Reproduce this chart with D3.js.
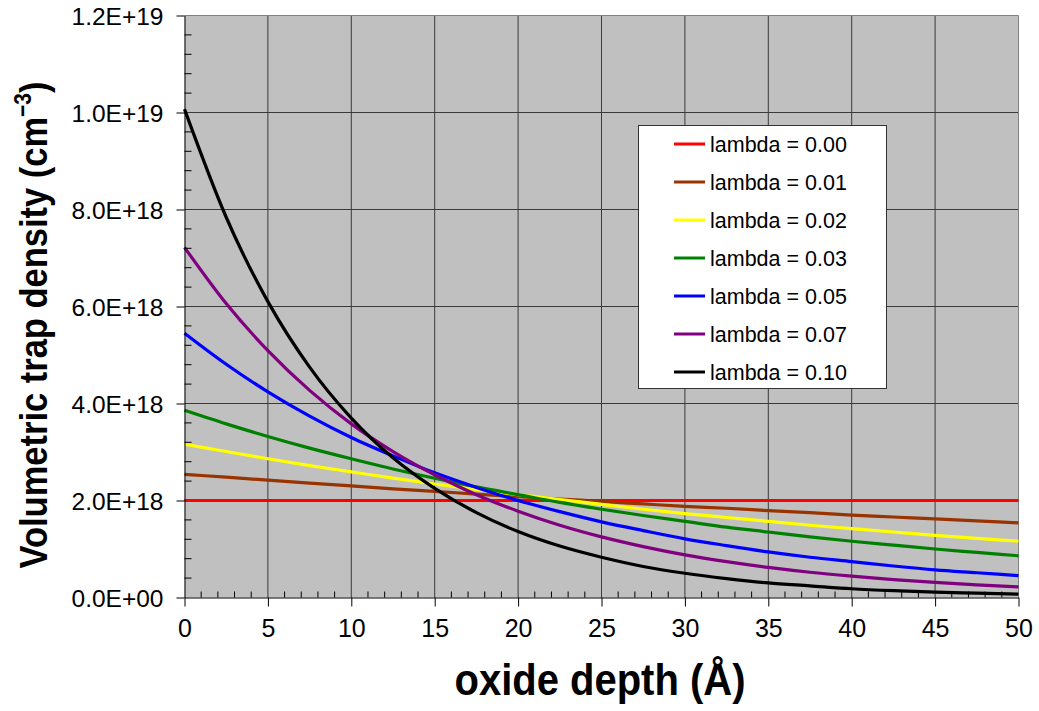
<!DOCTYPE html>
<html><head><meta charset="utf-8">
<script src="https://cdn.jsdelivr.net/npm/d3@7"></script>
<style>body{margin:0;background:#fff;}svg{display:block;font-family:"Liberation Sans",Arial,sans-serif;}</style>
</head><body>
<svg id="chart" width="1039" height="711"></svg>
<script>
// ---- data ----
const depth = [0,2.5,5,7.5,10,12.5,15,17.5,20,22.5,25,27.5,30,32.5,35,37.5,40,42.5,45,47.5,50];
const seriesNames = ["lambda = 0.00","lambda = 0.01","lambda = 0.02","lambda = 0.03","lambda = 0.05","lambda = 0.07","lambda = 0.10"];
const seriesColors = ["#FF0000","#993300","#FFFF00","#008000","#0000FF","#800080","#000000"];
// values in units of 1E18 cm^-3
const lam000 = [2.00,2.00,2.00,2.00,2.00,2.00,2.00,2.00,2.00,2.00,2.00,2.00,2.00,2.00,2.00,2.00,2.00,2.00,2.00,2.00,2.00];
const lam001 = [2.54,2.48,2.42,2.36,2.30,2.24,2.19,2.13,2.08,2.03,1.98,1.93,1.88,1.84,1.79,1.75,1.70,1.66,1.62,1.58,1.54];
const lam002 = [3.16,3.01,2.86,2.72,2.59,2.46,2.34,2.23,2.12,2.02,1.92,1.82,1.73,1.65,1.57,1.49,1.42,1.35,1.28,1.22,1.16];
const lam003 = [3.86,3.58,3.32,3.08,2.86,2.65,2.46,2.28,2.12,1.96,1.82,1.69,1.57,1.45,1.35,1.25,1.16,1.08,1.00,0.93,0.86];
const lam005 = [5.45,4.81,4.24,3.74,3.30,2.92,2.57,2.27,2.00,1.77,1.56,1.38,1.21,1.07,0.94,0.83,0.74,0.65,0.57,0.51,0.45];
const lam007 = [7.22,6.06,5.09,4.27,3.58,3.01,2.53,2.12,1.78,1.49,1.25,1.05,0.88,0.74,0.62,0.52,0.44,0.37,0.31,0.26,0.22];
const lam010 = [10.07,7.84,6.10,4.75,3.70,2.88,2.25,1.75,1.36,1.06,0.83,0.64,0.50,0.39,0.30,0.24,0.18,0.14,0.11,0.09,0.07];
const seriesValues = [lam000,lam001,lam002,lam003,lam005,lam007,lam010];
const xTicks = [0,5,10,15,20,25,30,35,40,45,50];
const yTicks = [0,2,4,6,8,10,12];
const yTickLabels = ["0.0E+00","2.0E+18","4.0E+18","6.0E+18","8.0E+18","1.0E+19","1.2E+19"];
const xTitle = "oxide depth (Å)";
const yTitle = "Volumetric trap density (cm";

// ---- layout ----
const L = 184.5, R = 1018.5, T = 15.5, B = 597.5;
const svg = d3.select("#chart");
const x = d3.scaleLinear().domain([0,50]).range([L,R]);
const y = d3.scaleLinear().domain([0,12]).range([B,T]);

svg.append("rect").attr("x",L).attr("y",T).attr("width",R-L).attr("height",B-T).attr("fill","#C0C0C0");

// grid
const g = svg.append("g");
g.selectAll(".vg").data(xTicks.slice(1,-1)).join("line")
  .attr("x1",d=>x(d)).attr("x2",d=>x(d)).attr("y1",T).attr("y2",B)
  .attr("stroke","#3a3a3a").attr("stroke-width",1);
g.selectAll(".hg").data(yTicks.slice(1,-1)).join("line")
  .attr("x1",L).attr("x2",R).attr("y1",d=>y(d)).attr("y2",d=>y(d))
  .attr("stroke","#3a3a3a").attr("stroke-width",1);
// top/right border
svg.append("path").attr("d",`M${L},${T}H${R}V${B}`).attr("fill","none").attr("stroke","#808080").attr("stroke-width",1);

// series
const line = d3.line().x((d,i)=>x(depth[i])).y(d=>y(d)).curve(d3.curveMonotoneX);
seriesValues.forEach((vals,k)=>{
  svg.append("path").attr("d",line(vals)).attr("fill","none")
    .attr("stroke",seriesColors[k]).attr("stroke-width",3.2).attr("stroke-linejoin","round");
});

// axes
const xAxis = d3.axisBottom(x).tickValues(xTicks).tickSize(9).tickSizeOuter(0).tickFormat(d3.format("d"));
const gx = svg.append("g").attr("transform",`translate(0,${B})`).call(xAxis);
gx.select(".domain").attr("stroke","#000");
gx.selectAll(".tick line").attr("stroke","#000");
gx.selectAll("text").attr("font-size",25).attr("fill","#000").attr("y",22).attr("dy","0.71em")
  .attr("font-family","Liberation Sans, Arial, sans-serif");
// x minor ticks
const xMinor = d3.range(0,51).filter(v=>v%5!==0);
svg.append("g").selectAll("line").data(xMinor).join("line")
  .attr("x1",d=>x(d)).attr("x2",d=>x(d)).attr("y1",B).attr("y2",B-6).attr("stroke","#000");

const yAxis = d3.axisLeft(y).tickValues(yTicks).tickSize(8).tickSizeOuter(0).tickFormat((d,i)=>yTickLabels[i]);
const gy = svg.append("g").attr("transform",`translate(${L},0)`).call(yAxis);
gy.select(".domain").attr("stroke","#000");
gy.selectAll(".tick line").attr("stroke","#000");
gy.selectAll("text").attr("font-size",24.5).attr("fill","#000").attr("x",-21).attr("dy","0.35em")
  .attr("font-family","Liberation Sans, Arial, sans-serif");
// y minor ticks
const yMinor = d3.range(0,61).map(v=>v*0.4).filter(v=>Math.abs(v/2-Math.round(v/2))>1e-6 && v<=12);
svg.append("g").selectAll("line").data(yMinor).join("line")
  .attr("x1",L).attr("x2",L+7).attr("y1",d=>y(d)).attr("y2",d=>y(d)).attr("stroke","#000");

// titles
svg.append("text").attr("transform","translate(600,695) scale(1,1.13)").attr("text-anchor","middle")
  .attr("font-size",40).attr("font-weight","bold").text(xTitle);
const yt = svg.append("text").attr("transform","translate(47,325) rotate(-90) scale(1,1.15)")
  .attr("text-anchor","middle").attr("font-size",34.5).attr("font-weight","bold");
yt.append("tspan").text(yTitle);
yt.append("tspan").attr("font-size",21).attr("dy",-14).text("−3");
yt.append("tspan").attr("dy",14).text(")");

// legend
const lg = svg.append("g");
lg.append("rect").attr("x",638.5).attr("y",125.5).attr("width",248).attr("height",263)
  .attr("fill","#fff").attr("stroke","#333").attr("stroke-width",1);
seriesNames.forEach((n,k)=>{
  const cy = 144 + k*38;
  lg.append("line").attr("x1",674).attr("x2",705).attr("y1",cy).attr("y2",cy)
    .attr("stroke",seriesColors[k]).attr("stroke-width",3);
  lg.append("text").attr("x",710).attr("y",cy).attr("dy","0.36em").attr("font-size",21.5).text(n);
});
</script>
</body></html>
